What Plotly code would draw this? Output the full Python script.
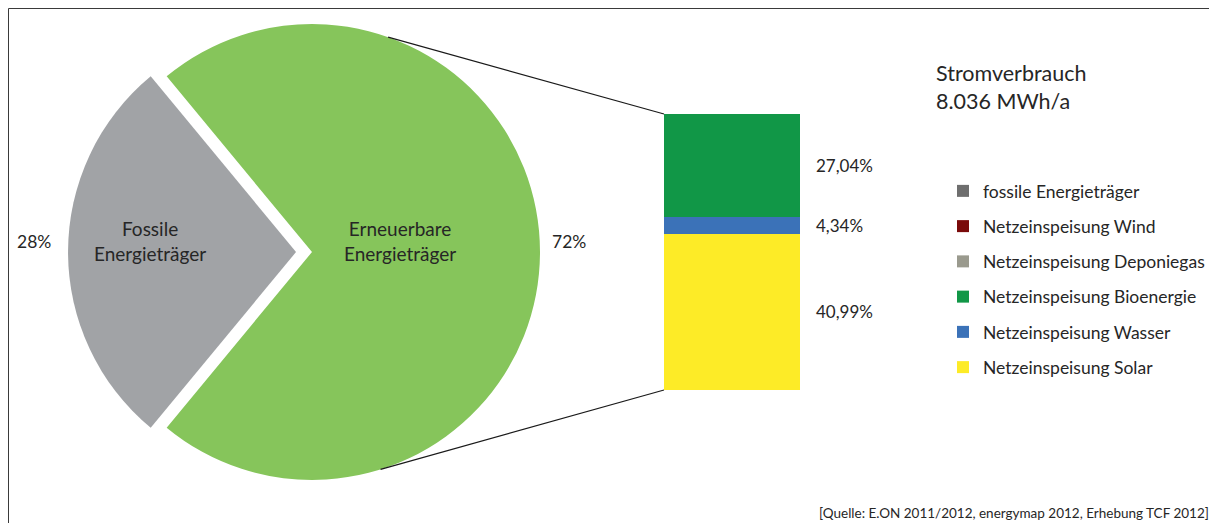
import plotly.graph_objects as go
import math

# ---- data ----
pie_labels = ["Fossile<br>Energieträger", "Erneuerbare<br>Energieträger"]
pie_values = [28, 72]
pie_colors = ["#A1A3A6", "#86C55B"]

bar_series = ["Netzeinspeisung Solar", "Netzeinspeisung Wasser", "Netzeinspeisung Bioenergie",
              "Netzeinspeisung Deponiegas", "Netzeinspeisung Wind", "fossile Energieträger"]
bar_values = [40.99, 4.34, 27.04, 0, 0, 0]
bar_colors = ["#FDEB27", "#3B72B8", "#119747", "#9A9A8E", "#7A0A0A", "#6E6E6E"]

title_text = "Stromverbrauch<br>8.036 MWh/a"
source_text = "[Quelle: E.ON 2011/2012, energymap 2012, Erhebung TCF 2012]"

# page has an 8px body margin -> figure starts at (8, 8) on screen
OFF = 8
W, H = 1217 - OFF, 523 - OFF
FONT = "Lato"
TXT = "#262626"


def px(X):  # screen x -> paper
    return (X - OFF) / W


def py(Y):  # screen y -> paper
    return 1 - (Y - OFF) / H


# ---- layout geometry (screen pixels) ----
pull = 0.07
pie_cx, pie_cy, pie_r = 312, 252, 228
half = pie_r * (1 + pull)
pie_dom_x = [px(pie_cx - half), px(pie_cx + half)]
pie_dom_y = [py(pie_cy + half), py(pie_cy - half)]

bar_dom_x = [px(664), px(800)]
bar_dom_y = [py(390), py(114)]
total = sum(bar_values)

fig = go.Figure()

fossil_deg = pie_values[0] / sum(pie_values) * 360
fig.add_trace(go.Pie(
    labels=pie_labels, values=pie_values, sort=False, direction="clockwise",
    rotation=270 - fossil_deg / 2, pull=[pull, 0],
    marker=dict(colors=pie_colors, line=dict(width=0)),
    textinfo="none", hoverinfo="label+percent", showlegend=False,
    domain=dict(x=pie_dom_x, y=pie_dom_y),
))

n = len(bar_series)
for i, (name, val, col) in enumerate(zip(bar_series, bar_values, bar_colors)):
    fig.add_trace(go.Bar(
        x=[0], y=[val], name=name, width=1,
        marker=dict(color=col, line=dict(width=0)),
        legendgroup=name, legendrank=n - i, xaxis="x", yaxis="y",
    ))

annotations = []
pie_label_pos = [(150, 241), (400, 241)]
pie_pct_pos = [(34, 242), (569, 242)]
for lab, val, (lx, ly), (qx, qy) in zip(pie_labels, pie_values, pie_label_pos, pie_pct_pos):
    annotations.append(dict(x=px(lx), y=py(ly), xref="paper", yref="paper", text=lab,
                            showarrow=False, font=dict(family=FONT, size=19, color=TXT),
                            xanchor="center", yanchor="middle", align="center"))
    annotations.append(dict(x=px(qx), y=py(qy), xref="paper", yref="paper", text=f"{val}%",
                            showarrow=False, font=dict(family=FONT, size=17.5, color=TXT),
                            xanchor="center", yanchor="middle"))

cum = 0
for val in bar_values:
    if val > 0:
        mid = cum + val / 2
        annotations.append(dict(x=0.5, y=mid, xref="x", yref="y",
                                text=f"{val:.2f}".replace(".", ",") + "%",
                                showarrow=False, xanchor="left", yanchor="middle", xshift=14,
                                font=dict(family=FONT, size=17, color=TXT)))
    cum += val

annotations.append(dict(x=px(934), y=py(86.5), xref="paper", yref="paper", text=title_text,
                        showarrow=False, xanchor="left", yanchor="middle", align="left",
                        font=dict(family=FONT, size=21.5, color=TXT)))
annotations.append(dict(x=px(1211), y=py(513), xref="paper", yref="paper", text=source_text,
                        showarrow=False, xanchor="right", yanchor="middle",
                        font=dict(family=FONT, size=13.5, color=TXT)))


def pie_point(angle_deg):
    a = math.radians(angle_deg)
    return px(pie_cx + pie_r * math.sin(a)), py(pie_cy - pie_r * math.cos(a))


p_top = pie_point(19.5)
p_bot = pie_point(162.5)
shapes = [
    dict(type="line", xref="paper", yref="paper", x0=p_top[0], y0=p_top[1],
         x1=bar_dom_x[0], y1=bar_dom_y[1], line=dict(color="#1a1a1a", width=1.2)),
    dict(type="line", xref="paper", yref="paper", x0=p_bot[0], y0=p_bot[1],
         x1=bar_dom_x[0], y1=bar_dom_y[0], line=dict(color="#1a1a1a", width=1.2)),
    dict(type="rect", xref="paper", yref="paper", x0=px(8.5), x1=px(1213), y0=-0.05, y1=py(8.5),
         line=dict(color="#3a3a3a", width=1), fillcolor="rgba(0,0,0,0)", layer="below"),
]

fig.update_layout(
    width=W, height=H, margin=dict(l=0, r=0, t=0, b=0),
    paper_bgcolor="white", plot_bgcolor="white",
    barmode="stack", showlegend=True,
    xaxis=dict(domain=bar_dom_x, range=[-0.5, 0.5], visible=False, fixedrange=True),
    yaxis=dict(domain=bar_dom_y, range=[0, total], visible=False, fixedrange=True),
    legend=dict(x=px(943), y=py(173), xanchor="left", yanchor="top",
                traceorder="grouped", tracegroupgap=9.5, itemwidth=30,
                font=dict(family=FONT, size=17.5, color=TXT), bgcolor="rgba(0,0,0,0)"),
    annotations=annotations, shapes=shapes,
    font=dict(family=FONT, color=TXT),
)

fig.write_html("out.html")
